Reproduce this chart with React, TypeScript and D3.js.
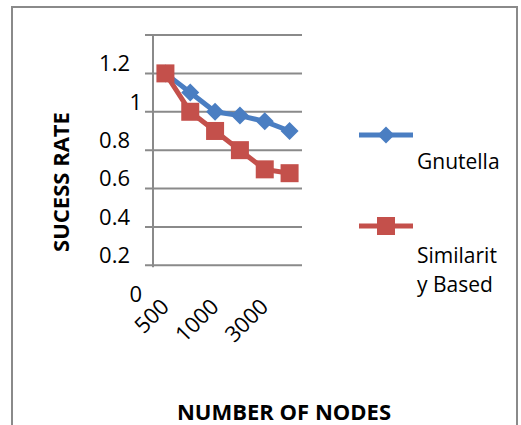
import React, { useEffect, useRef } from 'react';
import * as d3 from 'd3';

const categories = ['500', '750', '1000', '2000', '3000', '4000'];
const gnutella = [1.2, 1.1, 1.0, 0.98, 0.95, 0.9];
const similarity = [1.2, 1.0, 0.9, 0.8, 0.7, 0.68];
const yTicks = [0, 0.2, 0.4, 0.6, 0.8, 1, 1.2];
const gridValues = [0.2, 0.4, 0.6, 0.8, 1, 1.2, 1.4];

const BLUE = '#4a7ec2';
const RED = '#c4504b';
const GRAY = '#8a8a8a';
const FONT = '"Open Sans", sans-serif';

const App = () => {
  const svgRef = useRef<SVGSVGElement>(null);

  const drawChart = () => {
    const svg = d3.select(svgRef.current);
    svg.selectAll('*').remove();

    // outer frame
    svg.append('rect')
      .attr('x', 12).attr('y', 7)
      .attr('width', 505).attr('height', 440)
      .attr('fill', 'white')
      .attr('stroke', GRAY)
      .attr('stroke-width', 2);

    const xScale = d3.scaleBand().domain(categories).range([153, 302]);
    const yScale = d3.scaleLinear().domain([0, 1.4]).range([303.7, 35]);
    const cx = (c) => xScale(c) + xScale.bandwidth() / 2;

    // gridlines (with outward tick)
    svg.append('g')
      .selectAll('line')
      .data(gridValues)
      .enter()
      .append('line')
      .attr('x1', 145).attr('x2', 302)
      .attr('y1', (d) => yScale(d)).attr('y2', (d) => yScale(d))
      .attr('stroke', GRAY)
      .attr('stroke-width', 2);

    svg.append('line')
      .attr('x1', 153).attr('x2', 153)
      .attr('y1', yScale(1.4)).attr('y2', yScale(0.2) + 2)
      .attr('stroke', GRAY)
      .attr('stroke-width', 2);

    // y labels (offset above their lines like the source)
    svg.append('g')
      .selectAll('text')
      .data(yTicks)
      .enter()
      .append('text')
      .text((d) => String(d))
      .attr('x', (d) => (Number.isInteger(d) ? 142 : 130))
      .attr('y', (d) => yScale(d) - 10)
      .attr('dy', '0.36em')
      .attr('text-anchor', 'end')
      .style('font-family', FONT)
      .style('font-size', '22px');

    // x labels, every other one
    svg.append('g')
      .selectAll('text')
      .data(categories.filter((d, i) => i % 2 === 0))
      .enter()
      .append('text')
      .text((d) => d)
      .attr('text-anchor', 'end')
      .attr('transform', (d) => `translate(${cx(d) + 5}, 308) rotate(-45)`)
      .style('font-family', FONT)
      .style('font-size', '22px');

    const line = d3.line<number>()
      .x((d, i) => cx(categories[i]))
      .y((d) => yScale(d));

    const diamond = (x, y, r) => `M${x},${y - r}L${x + r},${y}L${x},${y + r}L${x - r},${y}Z`;

    svg.append('path')
      .datum(gnutella)
      .attr('d', line)
      .attr('fill', 'none')
      .attr('stroke', BLUE)
      .attr('stroke-width', 5);

    svg.append('g')
      .selectAll('path')
      .data(gnutella)
      .enter()
      .append('path')
      .attr('d', (d, i) => diamond(cx(categories[i]), yScale(d), 9))
      .attr('fill', BLUE);

    svg.append('path')
      .datum(similarity)
      .attr('d', line)
      .attr('fill', 'none')
      .attr('stroke', RED)
      .attr('stroke-width', 5);

    svg.append('g')
      .selectAll('rect')
      .data(similarity)
      .enter()
      .append('rect')
      .attr('x', (d, i) => cx(categories[i]) - 9)
      .attr('y', (d) => yScale(d) - 9)
      .attr('width', 18)
      .attr('height', 18)
      .attr('fill', RED);

    // legend
    svg.append('line')
      .attr('x1', 359).attr('x2', 413).attr('y1', 135).attr('y2', 135)
      .attr('stroke', BLUE).attr('stroke-width', 5);
    svg.append('path').attr('d', diamond(386, 135, 8.5)).attr('fill', BLUE);
    svg.append('text')
      .text('Gnutella')
      .attr('x', 417).attr('y', 169)
      .style('font-family', FONT)
      .style('font-size', '21px');

    svg.append('line')
      .attr('x1', 359).attr('x2', 413).attr('y1', 226).attr('y2', 226)
      .attr('stroke', RED).attr('stroke-width', 5);
    svg.append('rect')
      .attr('x', 377).attr('y', 217).attr('width', 18).attr('height', 18)
      .attr('fill', RED);
    svg.append('text')
      .text('Similarit')
      .attr('x', 417).attr('y', 263)
      .style('font-family', FONT)
      .style('font-size', '21px');
    svg.append('text')
      .text('y Based')
      .attr('x', 417).attr('y', 292)
      .style('font-family', FONT)
      .style('font-size', '21px');

    // axis titles
    svg.append('text')
      .text('NUMBER OF NODES')
      .attr('x', 284).attr('y', 420)
      .attr('text-anchor', 'middle')
      .style('font-family', FONT)
      .style('font-weight', 'bold')
      .style('font-size', '22px');

    svg.append('text')
      .text('SUCESS RATE')
      .attr('text-anchor', 'middle')
      .attr('transform', 'translate(69, 182) rotate(-90)')
      .style('font-family', FONT)
      .style('font-weight', 'bold')
      .style('font-size', '22px');
  };

  useEffect(() => {
    drawChart();
  }, []);

  return (
    <svg
      ref={svgRef}
      width={521}
      height={425}
      style={{ position: 'absolute', left: 0, top: 0, background: 'white' }}
    />
  );
};

export default App;
